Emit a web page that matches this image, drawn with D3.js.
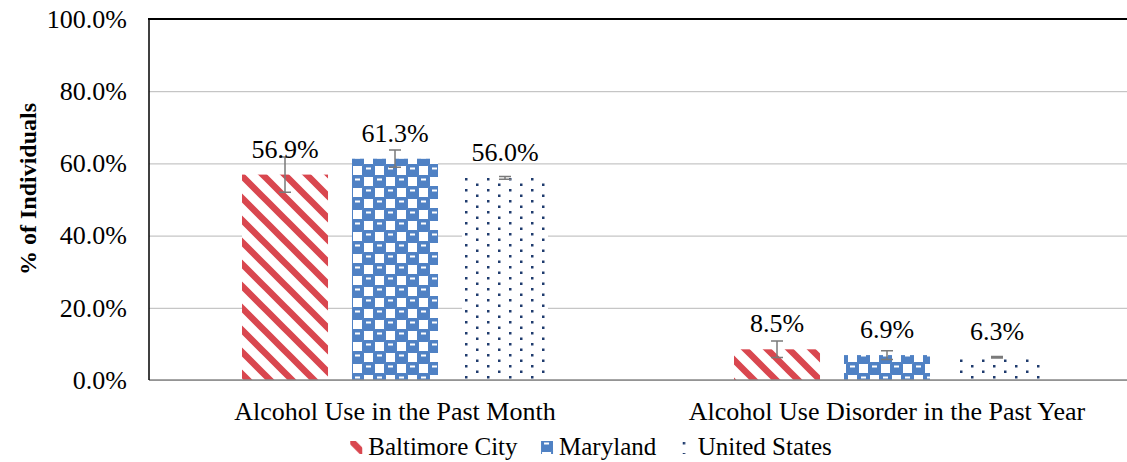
<!DOCTYPE html>
<html>
<head>
<meta charset="utf-8">
<script src="https://cdn.jsdelivr.net/npm/d3@7"></script>
<style>
  body { margin: 0; background: #fff; }
</style>
</head>
<body>
<div id="chart"></div>
<script>
// chart values
const categories = ["Alcohol Use in the Past Month", "Alcohol Use Disorder in the Past Year"];
const seriesNames = ["Baltimore City", "Maryland", "United States"];
const baltimore = [56.9, 8.5];
const maryland = [61.3, 6.9];
const unitedStates = [56.0, 6.3];
const baltimoreErr = [4.9, 2.3];
const marylandErr = [2.4, 1.2];
const unitedStatesErr = [0.4, 0.2];
const yTicks = [0, 20, 40, 60, 80, 100];

const seriesValues = [baltimore, maryland, unitedStates];
const seriesErrors = [baltimoreErr, marylandErr, unitedStatesErr];

const serif = "Liberation Serif";

let width = 1127;
let height = 462;

let svg = d3.select("#chart")
  .append("svg")
  .attr("width", width)
  .attr("height", height);

// fill patterns
const defs = svg.append("defs");

let stripes = defs.append("pattern")
  .attr("id", "pat0")
  .attr("patternUnits", "userSpaceOnUse")
  .attr("width", 22).attr("height", 22);
stripes.append("rect").attr("width", 22).attr("height", 22).attr("fill", "#fff");
stripes.append("path")
  .attr("d", "M-4,-4 L26,26 M18,-4 L26,4 M-4,18 L4,26")
  .attr("stroke", "#d9474f").attr("stroke-width", 6.5).attr("fill", "none");

// checkerboard: blue cells slightly larger than half the tile so corners join
let checks = defs.append("pattern")
  .attr("id", "pat1")
  .attr("patternUnits", "userSpaceOnUse")
  .attr("width", 22).attr("height", 22);
checks.append("rect").attr("width", 22).attr("height", 22).attr("fill", "#fff");
const cellCentres = [];
[[5.5, 5.5], [16.5, 16.5]].forEach(([cx, cy]) => {
  [-22, 0, 22].forEach((dx) => [-22, 0, 22].forEach((dy) => cellCentres.push([cx + dx, cy + dy])));
});
checks.selectAll(".cell")
  .data(cellCentres)
  .enter()
  .append("rect")
  .attr("class", "cell")
  .attr("x", (d) => d[0] - 6.5)
  .attr("y", (d) => d[1] - 6.5)
  .attr("width", 13).attr("height", 13)
  .attr("rx", 2.5)
  .attr("fill", "#4f81c4");
checks.append("rect").attr("x", 3).attr("y", 2.5).attr("width", 5).attr("height", 2).attr("fill", "#fff");
checks.append("rect").attr("x", 14).attr("y", 13.5).attr("width", 5).attr("height", 2).attr("fill", "#fff");

let dots = defs.append("pattern")
  .attr("id", "pat2")
  .attr("patternUnits", "userSpaceOnUse")
  .attr("width", 22).attr("height", 11);
dots.append("rect").attr("width", 22).attr("height", 11).attr("fill", "#fff");
dots.append("rect").attr("x", 3).attr("y", 2).attr("width", 2.5).attr("height", 2.5).attr("fill", "#1f3b6e");
dots.append("rect").attr("x", 14).attr("y", 7.5).attr("width", 2.5).attr("height", 2.5).attr("fill", "#1f3b6e");

// scales
const plotLeft = 149, plotTop = 19, plotBottom = 380;

let x0 = d3.scaleBand()
  .domain(categories)
  .range([plotLeft, 1133]);

let x1 = d3.scaleBand()
  .domain(seriesNames)
  .range([-153, 153])
  .paddingInner(0.218);

let y = d3.scaleLinear()
  .domain([0, 100])
  .range([plotBottom, plotTop]);

// gridlines + tick labels
let yAxis = d3.axisLeft(y)
  .tickValues(yTicks)
  .tickSize(-(width - plotLeft))
  .tickPadding(22)
  .tickFormat((d) => d.toFixed(1) + "%");

let yg = svg.append("g")
  .attr("transform", "translate(" + plotLeft + ",0)")
  .call(yAxis);
yg.select(".domain").remove();
yg.selectAll(".tick line").attr("stroke", "#b8b8b8").attr("stroke-width", 1);
yg.selectAll(".tick text")
  .attr("fill", "#000")
  .attr("font-family", serif)
  .attr("font-size", 26);

// bars
const groups = svg.append("g");
seriesNames.forEach((name, si) => {
  const rows = categories.map((c, ci) => ({
    cat: c, value: seriesValues[si][ci], err: seriesErrors[si][ci]
  }));
  const g = groups.append("g");
  const cx = (d) => x0(d.cat) + x0.bandwidth() / 2 + x1(name) + x1.bandwidth() / 2;

  g.selectAll("rect")
    .data(rows)
    .enter()
    .append("rect")
    .attr("x", (d) => x0(d.cat) + x0.bandwidth() / 2 + x1(name))
    .attr("y", (d) => y(d.value))
    .attr("width", x1.bandwidth())
    .attr("height", (d) => y(0) - y(d.value))
    .attr("fill", "url(#pat" + si + ")");

  // error bars
  g.selectAll(".err")
    .data(rows)
    .enter()
    .append("path")
    .attr("class", "err")
    .attr("d", (d) => {
      const c = cx(d), hi = y(d.value + d.err), lo = y(d.value - d.err);
      return "M" + c + "," + hi + "V" + lo +
        "M" + (c - 6) + "," + hi + "H" + (c + 6) +
        "M" + (c - 6) + "," + lo + "H" + (c + 6);
    })
    .attr("stroke", "#7a7a7a")
    .attr("stroke-width", 1.5)
    .attr("fill", "none");

  // value labels
  g.selectAll(".lbl")
    .data(rows)
    .enter()
    .append("text")
    .attr("class", "lbl")
    .attr("x", cx)
    .attr("y", (d) => y(d.value) - 17)
    .attr("text-anchor", "middle")
    .attr("font-family", serif)
    .attr("font-size", 26)
    .text((d) => d.value.toFixed(1) + "%");
});

// axis frame
svg.append("line")
  .attr("x1", plotLeft).attr("x2", width)
  .attr("y1", y(0)).attr("y2", y(0))
  .attr("stroke", "#888").attr("stroke-width", 1.5);
svg.append("line")
  .attr("x1", plotLeft - 1).attr("x2", width)
  .attr("y1", y(100)).attr("y2", y(100))
  .attr("stroke", "#000").attr("stroke-width", 2);
svg.append("line")
  .attr("x1", plotLeft).attr("x2", plotLeft)
  .attr("y1", y(100)).attr("y2", y(0))
  .attr("stroke", "#000").attr("stroke-width", 1.5);

// category labels
svg.append("g").selectAll("text")
  .data(categories)
  .enter()
  .append("text")
  .attr("x", (d) => x0(d) + x0.bandwidth() / 2)
  .attr("y", 420)
  .attr("text-anchor", "middle")
  .attr("font-family", serif)
  .attr("font-size", 26)
  .text((d) => d);

// y axis title
svg.append("text")
  .attr("transform", "translate(36,189) rotate(-90)")
  .attr("text-anchor", "middle")
  .attr("font-family", serif)
  .attr("font-size", 24)
  .attr("font-weight", "bold")
  .text("% of Individuals");

// legend
let legend = svg.append("g").attr("id", "legend");
let items = legend.selectAll("g")
  .data(seriesNames)
  .enter()
  .append("g");
items.append("rect")
  .attr("y", 441)
  .attr("width", 12)
  .attr("height", 13)
  .attr("fill", (d, i) => "url(#pat" + i + ")");
items.append("text")
  .attr("x", 18)
  .attr("y", 455)
  .attr("font-family", serif)
  .attr("font-size", 25)
  .text((d) => d);

let widths = [];
items.each(function () { widths.push(this.getBBox().width); });
const gap = 23;
const total = d3.sum(widths) + gap * (widths.length - 1);
let cursor = 591 - total / 2;
items.each(function (d, i) {
  d3.select(this).attr("transform", "translate(" + cursor + ",0)");
  cursor += widths[i] + gap;
});
</script>
</body>
</html>
